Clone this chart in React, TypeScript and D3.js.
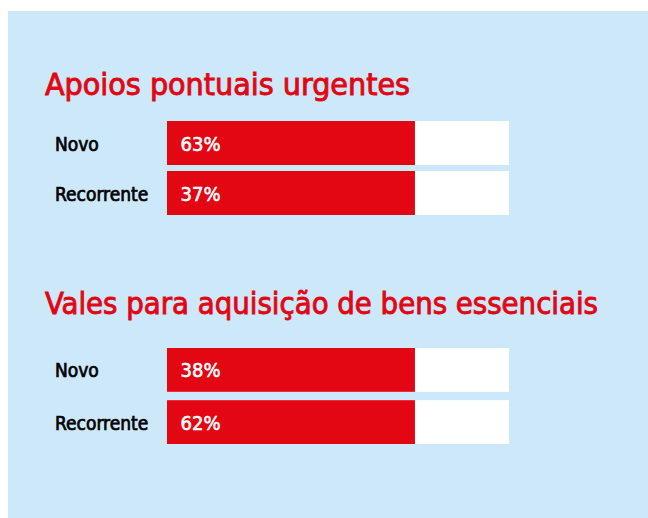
import React from "react";
import * as d3 from "d3";

const groupTitles = ["Apoios pontuais urgentes", "Vales para aquisição de bens essenciais"];
const rowLabels = ["Novo", "Recorrente"];
const groupValues = [
  [63, 37],
  [38, 62],
];

const W = 648;
const H = 518;
const RED = "#e30613";
const BG = "#cce8f9";
const FONT = "'DejaVu Sans Condensed', 'DejaVu Sans', sans-serif";

// layout per group: title baseline / width, bar area top/bottom
const groupLayout = [
  { titleY: 95, titleW: 365, top: 121, bottom: 215, pad: 0.12 },
  { titleY: 314, titleW: 553, top: 348, bottom: 444, pad: 0.16 },
];

const x = d3.scaleLinear().domain([0, 1]).range([167, 509]);
const redShare = 0.725;

export default function App() {
  return (
    <div style={{ position: "absolute", left: 0, top: 0 }}>
      <svg width={W} height={H} style={{ display: "block" }}>
        <rect x={8} y={11} width={W - 8} height={H - 11} fill={BG} />
        {groupTitles.map((title, gi) => {
          const L = groupLayout[gi];
          const y = d3
            .scaleBand<string>()
            .domain(rowLabels)
            .range([L.top, L.bottom])
            .paddingInner(L.pad);
          return (
            <g key={title}>
              <text
                x={45}
                y={L.titleY}
                fill={RED}
                stroke={RED}
                strokeWidth={0.9}
                fontFamily={FONT}
                fontStretch="condensed"
                fontSize={31}
                fontWeight={400}
                textLength={L.titleW}
                lengthAdjust="spacingAndGlyphs"
              >
                {title}
              </text>
              {rowLabels.map((lab, ri) => {
                const y0 = y(lab)!;
                const bh = y.bandwidth();
                return (
                  <g key={lab}>
                    <text
                      x={55}
                      y={y0 + bh / 2 + 7.5}
                      fill="#000"
                      stroke="#000"
                      strokeWidth={0.7}
                      fontFamily={FONT}
                      fontStretch="condensed"
                      fontSize={19}
                      fontWeight={400}
                    >
                      {lab}
                    </text>
                    <rect x={x(0)} y={y0} width={x(1) - x(0)} height={bh} fill="#fff" />
                    <rect x={x(0)} y={y0} width={x(redShare) - x(0)} height={bh} fill={RED} />
                    <text
                      x={x(0) + 13.5}
                      y={y0 + bh / 2 + 7.5}
                      fill="#fff"
                      stroke="#fff"
                      strokeWidth={0.6}
                      fontFamily={FONT}
                      fontStretch="condensed"
                      fontSize={20}
                      fontWeight={400}
                    >
                      {groupValues[gi][ri]}%
                    </text>
                  </g>
                );
              })}
            </g>
          );
        })}
      </svg>
    </div>
  );
}
